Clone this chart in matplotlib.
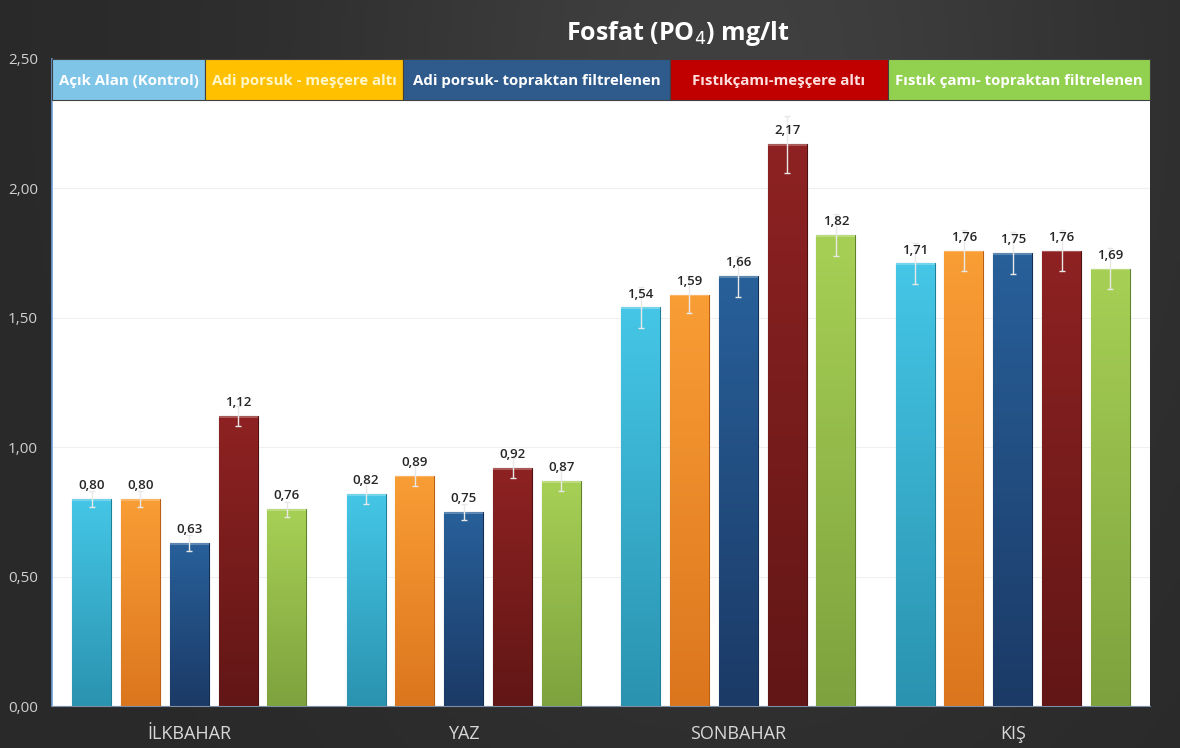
import numpy as np
import matplotlib
matplotlib.use("Agg")
import matplotlib.pyplot as plt
import matplotlib.patches as patches
from matplotlib.colors import LinearSegmentedColormap

plt.rcParams['font.family'] = ['Open Sans', 'DejaVu Sans']

seasons = ['İLKBAHAR', 'YAZ', 'SONBAHAR', 'KIŞ']
series = ['Açık Alan (Kontrol)', 'Adi porsuk - meşçere altı',
          'Adi porsuk- topraktan filtrelenen', 'Fıstıkçamı-meşçere altı',
          'Fıstık çamı- topraktan filtrelenen']
acik_alan = [0.80, 0.82, 1.54, 1.71]
porsuk_mescere = [0.80, 0.89, 1.59, 1.76]
porsuk_toprak = [0.63, 0.75, 1.66, 1.75]
fistik_mescere = [1.12, 0.92, 2.17, 1.76]
fistik_toprak = [0.76, 0.87, 1.82, 1.69]
values = [acik_alan, porsuk_mescere, porsuk_toprak, fistik_mescere, fistik_toprak]
errors = [[0.03, 0.04, 0.08, 0.08],
          [0.03, 0.04, 0.07, 0.08],
          [0.03, 0.03, 0.08, 0.08],
          [0.04, 0.04, 0.11, 0.08],
          [0.03, 0.04, 0.08, 0.08]]
yticks = [0.0, 0.5, 1.0, 1.5, 2.0, 2.5]

# bar gradient colours (top, bottom) and edge
bar_cols = [('#45c6e6', '#2a93b0', '#1f7f99'),
            ('#f99d35', '#dc761e', '#b85f14'),
            ('#28609a', '#1b3a66', '#142c4f'),
            ('#8e2222', '#621616', '#4d1010'),
            ('#a6d055', '#7ea23e', '#62812d')]
# legend box colours and text colour
leg_cols = [('#7fc5e8', 'white'), ('#ffc000', '#fff6c8'), ('#2f5b8c', 'white'),
            ('#c00000', '#ffe0e0'), ('#92d050', 'white')]
leg_edges = [52, 205, 403, 670, 888, 1150]

fig = plt.figure(figsize=(11.8, 7.48), dpi=100)

# dark gradient background
bg = fig.add_axes([0, 0, 1, 1], zorder=-10)
gx = np.linspace(0, 1, 300)
gy = np.linspace(0, 1, 200)
X, Y = np.meshgrid(gx, gy)
shade = 0.16 + 0.09 * np.exp(-((X - 0.62) ** 2) / 0.12 - ((Y - 0.9) ** 2) / 0.6)
bg.imshow(np.dstack([shade, shade, shade]), extent=[0, 1, 0, 1], aspect='auto', origin='lower')
bg.axis('off')

ax = fig.add_axes([52 / 1180, 1 - 706 / 748, 1098 / 1180, 647 / 748])
ax.set_facecolor('white')
ax.set_xlim(-0.5, 3.5)
ax.set_ylim(0, 2.5)

x = np.arange(len(seasons))
step = 0.178
width = 0.142
for i, vals in enumerate(values):
    xs = x + (i - 2) * step
    top, bot, edge = bar_cols[i]
    cmap = LinearSegmentedColormap.from_list('g%d' % i, [bot, top])
    bars = ax.bar(xs, vals, width, color=top, edgecolor=edge, linewidth=0.8, zorder=2)
    for b, v in zip(bars, vals):
        grad = np.linspace(0, 1, 100).reshape(-1, 1)
        im = ax.imshow(grad, cmap=cmap, origin='lower', aspect='auto',
                       extent=[b.get_x(), b.get_x() + b.get_width(), 0, v], zorder=2.1)
        im.set_clip_path(b)
        hl = patches.Rectangle((b.get_x(), v - 0.007), b.get_width(), 0.007,
                               facecolor='white', alpha=0.25, edgecolor='none', zorder=2.2)
        ax.add_patch(hl)
    ax.errorbar(xs, vals, yerr=errors[i], fmt='none', ecolor='#e8e8e8',
                elinewidth=1, capsize=2, capthick=1, zorder=3)
    for xx, v in zip(xs, vals):
        ax.annotate(('%.2f' % v).replace('.', ','), (xx, v), xytext=(0, 5),
                    textcoords='offset points', ha='center', va='bottom',
                    fontsize=9.5, fontweight='semibold', color='#262626', zorder=4)

ax.set_xticks(x)
ax.set_xticklabels(seasons, fontsize=13, color='#d8d8d8')
ax.set_yticks(yticks)
ax.set_yticklabels([('%.2f' % t).replace('.', ',') for t in yticks],
                   fontsize=11, color='#d0d0d0')
ax.tick_params(axis='both', length=0)
ax.tick_params(axis='x', pad=14)
ax.tick_params(axis='y', pad=10)
ax.yaxis.grid(True, color='#f0f0f0', linewidth=0.8, zorder=0)
ax.set_axisbelow(True)
for s in ['top', 'right']:
    ax.spines[s].set_visible(False)
ax.spines['left'].set_color('#6f9fd8')
ax.spines['bottom'].set_color('#7d8fa8')
ax.spines['left'].set_linewidth(1.2)

# legend strip across the top of the plot
ax_w = 1098
for k in range(5):
    x0 = (leg_edges[k] - 52) / ax_w
    x1 = (leg_edges[k + 1] - 52) / ax_w
    fc, tc = leg_cols[k]
    r = patches.Rectangle((x0, 1 - 41 / 647), x1 - x0, 41 / 647, transform=ax.transAxes,
                          facecolor=fc, edgecolor='#404040', linewidth=0.8, zorder=5,
                          clip_on=False)
    ax.add_patch(r)
    ax.text((x0 + x1) / 2, 1 - 22 / 647, series[k], transform=ax.transAxes,
            ha='center', va='center', fontsize=10.8, fontweight='bold', color=tc, zorder=6)

fig.text(678 / 1180, 1 - 33 / 748, 'Fosfat (PO$_4$) mg/lt', ha='center', va='center',
         fontsize=18, fontweight='bold', color='white')

fig.savefig('out.png', dpi=100)
